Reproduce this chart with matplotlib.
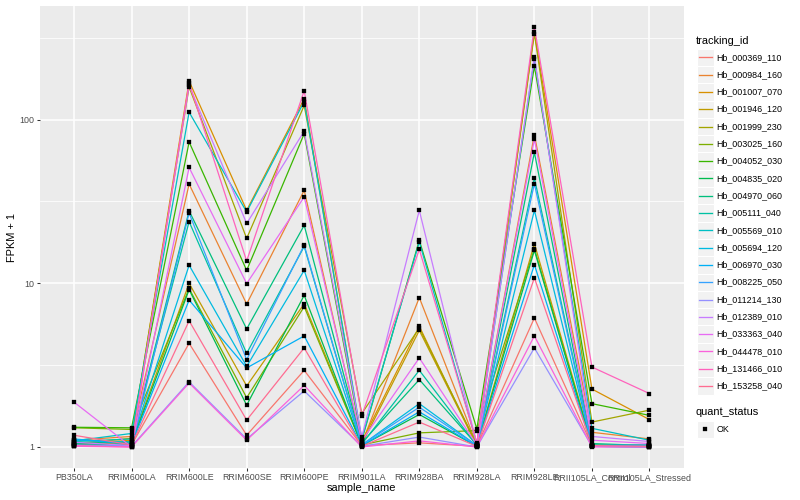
import numpy as np
import matplotlib
matplotlib.use("Agg")
import matplotlib.pyplot as plt
from matplotlib.ticker import FixedLocator, NullFormatter
from matplotlib.patches import Rectangle
from matplotlib.lines import Line2D

plt.rcParams['font.family'] = ['Liberation Sans', 'DejaVu Sans']

samples = ["PB350LA", "RRIM600LA", "RRIM600LE", "RRIM600SE", "RRIM600PE",
           "RRIM901LA", "RRIM928BA", "RRIM928LA", "RRIM928LE",
           "RRII105LA_Control", "RRII105LA_Stressed"]

tracking_ids = ["Hb_000369_110", "Hb_000984_160", "Hb_001007_070", "Hb_001946_120",
                "Hb_001999_230", "Hb_003025_160", "Hb_004052_030", "Hb_004835_020",
                "Hb_004970_060", "Hb_005111_040", "Hb_005569_010", "Hb_005694_120",
                "Hb_006970_030", "Hb_008225_050", "Hb_011214_130", "Hb_012389_010",
                "Hb_033363_040", "Hb_044478_010", "Hb_131466_010", "Hb_153258_040"]

colors = ["#F8766D", "#EA8331", "#D89000", "#C09B00", "#A3A500", "#7CAE00",
          "#39B600", "#00BB4E", "#00BF7D", "#00C1A3", "#00BFC4", "#00BAE0",
          "#00B0F6", "#35A2FF", "#9590FF", "#C77CFF", "#E76BF3", "#FA62DB",
          "#FF62BC", "#FF6C91"]

hb_000369_110 = [1.06, 1.03, 4.3, 1.18, 2.94, 1.02, 1.06, 1.01, 6.14, 1.02, 1.01]
hb_000984_160 = [1.10, 1.16, 40.4, 7.47, 37.0, 1.05, 8.18, 1.03, 81.0, 1.23, 1.12]
hb_001007_070 = [1.04, 1.10, 172.0, 27.9, 134.0, 1.08, 5.46, 1.02, 345.0, 2.26, 1.47]
hb_001946_120 = [1.03, 1.07, 10.0, 2.36, 7.5, 1.04, 5.16, 1.02, 17.5, 1.03, 1.02]
hb_001999_230 = [1.05, 1.13, 158.0, 18.8, 122.0, 1.60, 5.33, 1.04, 335.0, 1.42, 1.68]
hb_003025_160 = [1.31, 1.28, 9.3, 2.00, 7.2, 1.03, 1.22, 1.26, 16.3, 1.02, 1.03]
hb_004052_030 = [1.32, 1.31, 73.0, 12.0, 82.0, 1.10, 18.3, 1.29, 212.0, 1.84, 1.56]
hb_004835_020 = [1.02, 1.05, 9.15, 1.80, 8.45, 1.02, 1.58, 1.01, 15.9, 1.01, 1.00]
hb_004970_060 = [1.05, 1.08, 27.7, 5.26, 22.6, 1.06, 2.58, 1.03, 63.0, 1.05, 1.02]
hb_005111_040 = [1.08, 1.12, 23.8, 3.73, 16.8, 1.04, 2.94, 1.02, 44.0, 1.03, 1.01]
hb_005569_010 = [1.09, 1.21, 111.0, 27.3, 129.0, 1.12, 17.9, 1.05, 236.0, 1.30, 1.10]
hb_005694_120 = [1.10, 1.07, 12.9, 3.11, 12.0, 1.03, 1.84, 1.02, 27.9, 1.02, 1.01]
hb_006970_030 = [1.12, 1.04, 7.9, 3.04, 4.77, 1.02, 1.64, 1.01, 13.0, 1.01, 1.00]
hb_008225_050 = [1.03, 1.02, 26.9, 3.42, 17.1, 1.03, 1.75, 1.02, 40.6, 1.02, 1.03]
hb_011214_130 = [1.02, 1.01, 2.5, 1.12, 2.20, 1.01, 1.15, 1.00, 4.03, 1.01, 1.00]
hb_012389_010 = [1.07, 1.02, 162.0, 23.2, 85.0, 1.15, 27.9, 1.04, 241.0, 1.16, 1.08]
hb_033363_040 = [1.88, 1.00, 51.0, 9.96, 33.7, 1.09, 3.50, 1.03, 76.0, 1.10, 1.05]
hb_044478_010 = [1.01, 1.00, 2.46, 1.10, 2.38, 1.00, 1.09, 1.00, 4.77, 1.00, 1.00]
hb_131466_010 = [1.02, 1.00, 167.0, 13.7, 150.0, 1.55, 16.1, 1.06, 368.0, 3.08, 2.12]
hb_153258_040 = [1.18, 1.03, 5.9, 1.46, 4.03, 1.01, 1.42, 1.01, 10.8, 1.02, 1.01]

series = [hb_000369_110, hb_000984_160, hb_001007_070, hb_001946_120, hb_001999_230,
          hb_003025_160, hb_004052_030, hb_004835_020, hb_004970_060, hb_005111_040,
          hb_005569_010, hb_005694_120, hb_006970_030, hb_008225_050, hb_011214_130,
          hb_012389_010, hb_033363_040, hb_044478_010, hb_131466_010, hb_153258_040]

quant_status = ["OK"]

W, H = 800, 500
fig = plt.figure(figsize=(W / 100, H / 100), dpi=100)
L, R, T, B = 39.5, 684, 6, 468
ax = fig.add_axes([L / W, 1 - B / H, (R - L) / W, (B - T) / H])
ax.set_facecolor('#EBEBEB')

x = np.arange(len(samples))
for vals, col in zip(series, colors):
    ax.plot(x, vals, color=col, lw=0.9, zorder=3, solid_capstyle='butt')
for vals in series:
    ax.plot(x, vals, linestyle='none', marker='s', color='black', ms=2.3,
            markeredgewidth=0.2, zorder=4)

ax.set_yscale('log')
allv = np.log10(np.concatenate([np.array(s) for s in series]))
lo, hi = allv.min(), allv.max()
pad = 0.05 * (hi - lo)
ax.set_ylim(10 ** (lo - pad), 10 ** (hi + pad))
ax.set_xlim(-0.6, len(samples) - 1 + 0.6)

ax.yaxis.set_major_locator(FixedLocator([1, 10, 100]))
ax.set_yticklabels(['1', '10', '100'])
ax.yaxis.set_minor_locator(FixedLocator([10 ** 0.5, 10 ** 1.5, 10 ** 2.5]))
ax.yaxis.set_minor_formatter(NullFormatter())
ax.set_xticks(x)
ax.set_xticklabels(samples)

ax.grid(which='major', color='white', lw=1.1)
ax.grid(which='minor', axis='y', color='white', lw=0.55)
ax.set_axisbelow(True)
for s in ax.spines.values():
    s.set_visible(False)
ax.tick_params(which='major', length=2.0, width=0.75, color='#333333',
               labelsize=6.4, labelcolor='#4D4D4D', pad=1.8)
ax.tick_params(which='minor', length=0)

fig.text(12 / W, 1 - 237 / H, "FPKM + 1", rotation=90, ha='center', va='center',
         fontsize=7.9, color='black')
fig.text(361.75 / W, 1 - 488 / H, "sample_name", ha='center', va='center',
         fontsize=7.9, color='black')

# legend (drawn in pixel coordinates)
lax = fig.add_axes([0, 0, 1, 1], facecolor='none')
lax.set_xlim(0, W)
lax.set_ylim(H, 0)
lax.axis('off')

lax.text(696, 40.7, "tracking_id", ha='left', va='center', fontsize=7.9)
key_h = 17.3
for i, (tid, col) in enumerate(zip(tracking_ids, colors)):
    yc = 57.3 + i * key_h
    lax.add_patch(Rectangle((697, yc - key_h / 2), 16.5, key_h, facecolor='#F2F2F2',
                            edgecolor='white', lw=0.8))
    lax.add_line(Line2D([698.5, 712], [yc, yc], color=col, lw=0.95))
    lax.text(716.5, yc, tid, ha='left', va='center', fontsize=6.4)

lax.text(696, 412.3, "quant_status", ha='left', va='center', fontsize=7.9)
yc = 429.3
lax.add_patch(Rectangle((697, yc - key_h / 2), 16.5, key_h, facecolor='#F2F2F2',
                        edgecolor='white', lw=0.8))
lax.plot([705.2], [yc], linestyle='none', marker='s', color='black', ms=2.3,
         markeredgewidth=0.2)
lax.text(716.5, yc, quant_status[0], ha='left', va='center', fontsize=6.4)

fig.savefig("out.png", dpi=100)
